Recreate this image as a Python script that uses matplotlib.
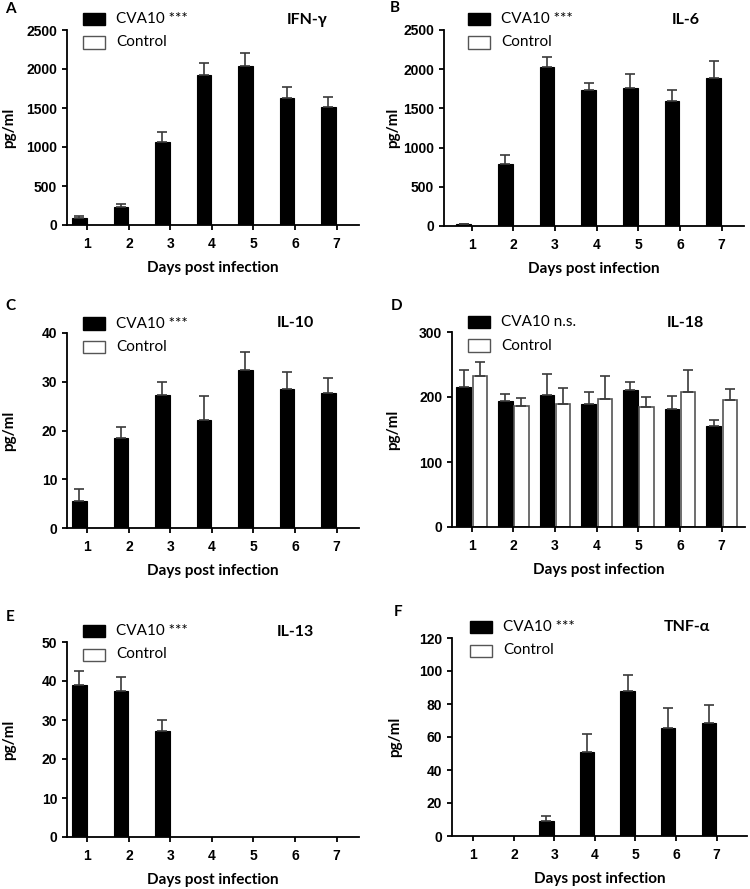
import numpy as np
import matplotlib
matplotlib.use("Agg")
import matplotlib.pyplot as plt
from matplotlib.patches import Rectangle

# Data (means and upper SD)
days = [1, 2, 3, 4, 5, 6, 7]

ifng_cva = [90, 225, 1060, 1920, 2040, 1630, 1510]
ifng_err = [20, 40, 135, 155, 170, 140, 135]

il6_cva = [20, 795, 2030, 1740, 1755, 1595, 1890]
il6_err = [5, 115, 130, 90, 190, 140, 220]

il10_cva = [5.5, 18.4, 27.3, 22.1, 32.5, 28.5, 27.7]
il10_err = [2.6, 2.3, 2.7, 4.9, 3.6, 3.6, 3.0]

il18_cva = [215, 194, 203, 189, 211, 182, 156]
il18_err = [27, 10, 32, 18, 12, 19, 8]
il18_ctrl = [233, 186, 190, 197, 185, 207, 196]
il18_ctrl_err = [21, 12, 24, 35, 15, 35, 17]

il13_cva = [38.9, 37.4, 27.3, 0, 0, 0, 0]
il13_err = [3.7, 3.7, 2.8, 0, 0, 0, 0]

tnfa_cva = [0, 0, 9.1, 51, 87.6, 65.4, 68.6]
tnfa_err = [0, 0, 3.2, 10.7, 10.2, 12.3, 11.0]

ctrl_zero = [0, 0, 0, 0, 0, 0, 0]

W, H = 750, 889
fig = plt.figure(figsize=(W / 100, H / 100), dpi=100)

LABEL_FONT = ['Lato', 'DejaVu Sans']
TICK_FONT = ['Liberation Sans', 'DejaVu Sans']


def fx(x):
    return x / W


def fy(y):
    return 1 - y / H


# name, letter, sig, cva, err, ctrl, ctrl_err, yticks, axes box (l, r, t, b px), xlim,
# letter pos, title pos, legend pos, ylabel x
panels = [
    ("IFN-γ", "A", "***", ifng_cva, ifng_err, ctrl_zero, ctrl_zero, np.arange(0, 2501, 500),
     (67, 359, 30, 225), (0.51, 7.54), (10, 9), (307, 20), (83, 19), 9),
    ("IL-6", "B", "***", il6_cva, il6_err, ctrl_zero, ctrl_zero, np.arange(0, 2501, 500),
     (444, 744, 30, 226), (0.335, 7.535), (395, 8), (686, 20), (468, 19), 393),
    ("IL-10", "C", "***", il10_cva, il10_err, ctrl_zero, ctrl_zero, np.arange(0, 41, 10),
     (67, 359, 333, 528), (0.51, 7.54), (10, 306), (295, 323), (83, 323.5), 9),
    ("IL-18", "D", "n.s.", il18_cva, il18_err, il18_ctrl, il18_ctrl_err, np.arange(0, 301, 100),
     (452, 745, 332, 527), (0.527, 7.56), (397, 306), (685, 323), (468, 322), 393),
    ("IL-13", "E", "***", il13_cva, il13_err, ctrl_zero, ctrl_zero, np.arange(0, 51, 10),
     (67, 359, 642, 837), (0.51, 7.54), (10, 617), (295, 632), (83, 631), 9),
    ("TNF-α", "F", "***", tnfa_cva, tnfa_err, ctrl_zero, ctrl_zero, np.arange(0, 121, 20),
     (452, 747, 638, 836), (0.475, 7.75), (398, 612), (687, 627), (470, 627), 395),
]

bw = 0.35
gap = 0.02
err_col = '#3a3a3a'
ctrl_edge = '#555555'

for (name, letter, sig, cva, err, ctrl, ctrl_err, yticks, box, xlim,
     lpos, tpos, legpos, ylx) in panels:
    l, r, t, b = box
    ax = fig.add_axes([fx(l), fy(b), fx(r - l), (b - t) / H])
    x = np.array(days, dtype=float)
    cva = np.array(cva, dtype=float)
    err = np.array(err, dtype=float)

    ax.bar(x - gap, cva, width=-bw, align='edge', color='black', edgecolor='black',
           linewidth=0.8, zorder=2)
    m = cva > 0
    ax.errorbar(x[m] - gap - bw / 2, cva[m], yerr=[np.zeros(m.sum()), err[m]], fmt='none',
                ecolor=err_col, elinewidth=1.2, capsize=3.5, capthick=1.2, zorder=3)

    ctrl = np.array(ctrl, dtype=float)
    if ctrl.any():
        ctrl_err = np.array(ctrl_err, dtype=float)
        ax.bar(x + gap, ctrl, width=bw, align='edge', color='white', edgecolor=ctrl_edge,
               linewidth=1.2, zorder=2)
        ax.errorbar(x + gap + bw / 2, ctrl, yerr=[np.zeros(len(ctrl)), ctrl_err], fmt='none',
                    ecolor=err_col, elinewidth=1.2, capsize=3.5, capthick=1.2, zorder=3)

    ax.set_xlim(*xlim)
    ax.set_ylim(0, yticks[-1])
    ax.set_xticks(days)
    ax.set_yticks(yticks)
    ax.spines['top'].set_visible(False)
    ax.spines['right'].set_visible(False)
    for s in ('left', 'bottom'):
        ax.spines[s].set_linewidth(1.3)
    ax.tick_params(length=3.5, width=1.3, direction='out')
    ax.tick_params(axis='x', pad=5)
    ax.tick_params(axis='y', pad=3.5)
    for lab in ax.get_xticklabels() + ax.get_yticklabels():
        lab.set_family(TICK_FONT)
        lab.set_fontweight('bold')
        lab.set_fontsize(10)

    # panel letter, cytokine name, axis labels
    fig.text(fx(lpos[0]), fy(lpos[1]), letter, ha='center', va='center',
             fontsize=11, fontweight='bold', family=LABEL_FONT)
    fig.text(fx(tpos[0]), fy(tpos[1]), name, ha='center', va='center',
             fontsize=11.5, fontweight='bold', family=LABEL_FONT)
    fig.text(fx((l + r) / 2), fy(b + 43), 'Days post infection', ha='center', va='center',
             fontsize=11, fontweight='bold', family=LABEL_FONT)
    fig.text(fx(ylx), fy((t + b) / 2), 'pg/ml', ha='center', va='center', rotation=90,
             fontsize=11, fontweight='bold', family=LABEL_FONT)

    # legend
    lx, ly = legpos
    for i, (lab, fc, ec) in enumerate([(f'CVA10 {sig}', 'black', 'black'),
                                       ('Control', 'white', ctrl_edge)]):
        cy = ly + i * 23.5
        fig.patches.append(Rectangle((fx(lx), fy(cy + 6)), 22 / W, 12 / H,
                                     transform=fig.transFigure, facecolor=fc,
                                     edgecolor=ec, linewidth=1.0))
        fig.text(fx(lx + 33), fy(cy), lab, ha='left', va='center', fontsize=11,
                 family=LABEL_FONT)

fig.savefig('out.png', dpi=100)
